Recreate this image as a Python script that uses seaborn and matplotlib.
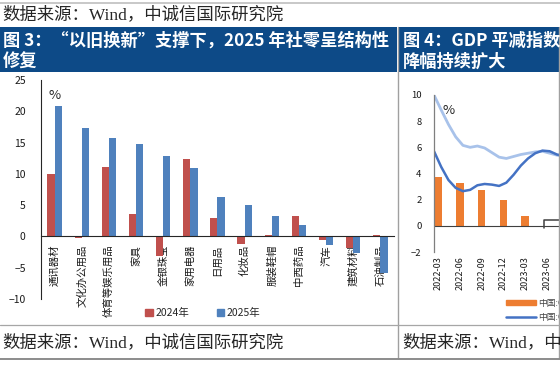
import numpy as np
import pandas as pd
import matplotlib
matplotlib.use("Agg")
import matplotlib.pyplot as plt
import seaborn as sns
from matplotlib.lines import Line2D
from matplotlib.patches import Rectangle, Patch
from matplotlib.transforms import Bbox, TransformedBbox

# ---------------- data ----------------
categories = ['通讯器材', '文化办公用品', '体育等娱乐用品', '家具', '金银珠宝', '家用电器',
              '日用品', '化妆品', '服装鞋帽', '中西药品', '汽车', '建筑材料', '石油制品']
growth_2024 = [9.9, -0.3, 11.1, 3.6, -3.1, 12.3, 2.9, -1.2, 0.2, 3.2, -0.5, -1.9, 0.2]
growth_2025 = [20.9, 17.3, 15.7, 14.7, 12.8, 11.0, 6.3, 5.0, 3.2, 1.8, -1.4, -2.7, -5.8]
years = ['2024年', '2025年']
left_yticks = [-10, -5, 0, 5, 10, 15, 20, 25]

quarters = ['2022-03', '2022-06', '2022-09', '2022-12', '2023-03', '2023-06', '2023-09']
deflator_bars = [3.7, 3.3, 2.75, 1.95, 0.75, -0.1]
line_light = [10.0, 8.85, 7.75, 6.8, 6.15, 6.0, 6.1, 5.95, 5.6, 5.25, 5.15, 5.3,
              5.45, 5.55, 5.65, 5.7, 5.55, 5.4, 5.3]
line_dark = [5.7, 4.5, 3.5, 2.9, 2.65, 2.75, 3.1, 3.2, 3.15, 3.05, 3.3, 3.9,
             4.6, 5.15, 5.55, 5.75, 5.7, 5.45, 5.35]
step_x = [4.85, 4.85, 6.5]
step_y = [-0.15, 0.45, 0.45]
right_yticks = [-2, 0, 2, 4, 6, 8, 10]
legend_right = ['中国:GDP平减指数:当季同比', '中国:GDP:现价:当季同比']

title_left = ['图 3：“以旧换新”支撑下，2025 年社零呈结构性', '修复']
title_right = ['图 4：GDP 平减指数', '降幅持续扩大']
source_text = '数据来源：Wind，中诚信国际研究院'

# ---------------- style ----------------
sns.set_style('white')
plt.rcParams['font.family'] = ['Noto Sans CJK SC', 'DejaVu Sans']
plt.rcParams['axes.unicode_minus'] = True
SERIF = ['Liberation Serif', 'Noto Sans CJK SC']
TITLE_FONT = ['Noto Sans CJK SC', 'DejaVu Sans']
RED, BLUE = '#C0504D', '#4F81BD'
ORANGE, DBLUE, LBLUE = '#ED7D31', '#4472C4', '#A8C2EA'
NAVY = '#0D4A87'

W, H = 560, 368
fig = plt.figure(figsize=(W / 100, H / 100), dpi=100)
fx = lambda x: x / W
fy = lambda y: 1 - y / H

# ---------------- page decoration ----------------
def hline(y, x0, x1, color, lw):
    fig.add_artist(Line2D([fx(x0), fx(x1)], [fy(y), fy(y)], transform=fig.transFigure,
                          color=color, lw=lw, zorder=20))

def vline(x, y0, y1, color, lw):
    fig.add_artist(Line2D([fx(x), fx(x)], [fy(y0), fy(y1)], transform=fig.transFigure,
                          color=color, lw=lw, zorder=20))

hline(2.5, 0, 560, '#BFBFBF', 1.2)
fig.add_artist(Rectangle((fx(0), fy(72)), fx(397), fy(27) - fy(72), transform=fig.transFigure,
                         facecolor=NAVY, edgecolor='none', zorder=10))
fig.add_artist(Rectangle((fx(399), fy(72)), fx(161), fy(27) - fy(72), transform=fig.transFigure,
                         facecolor=NAVY, edgecolor='none', zorder=10))
vline(398, 27, 358, '#A0A0A0', 1.0)
vline(559.3, 27, 358, '#A0A0A0', 1.0)
hline(325, 0, 560, '#A6A6A6', 0.9)
hline(358.5, 0, 560, '#8C8C8C', 1.4)

fig.text(fx(2), fy(15), source_text, ha='left', va='center', fontsize=12.5,
         family=SERIF, color='#262626', zorder=21)
fig.text(fx(3), fy(41), title_left[0], ha='left', va='center', fontsize=12.4,
         family=TITLE_FONT, color='white', fontweight='bold', zorder=21)
fig.text(fx(3), fy(62), title_left[1], ha='left', va='center', fontsize=12.4,
         family=TITLE_FONT, color='white', fontweight='bold', zorder=21)
fig.text(fx(403), fy(41), title_right[0], ha='left', va='center', fontsize=12.4,
         family=TITLE_FONT, color='white', fontweight='bold', zorder=21)
fig.text(fx(403), fy(62), title_right[1], ha='left', va='center', fontsize=12.4,
         family=TITLE_FONT, color='white', fontweight='bold', zorder=21)
fig.text(fx(2), fy(343), source_text, ha='left', va='center', fontsize=12.5,
         family=SERIF, color='#262626', zorder=21)
fig.text(fx(402), fy(343), source_text, ha='left', va='center', fontsize=12.5,
         family=SERIF, color='#262626', zorder=21)

# ---------------- left chart ----------------
axl = fig.add_axes([fx(41), fy(299), fx(353), (299 - 80) / H])
df = pd.DataFrame({
    'cat': categories * 2,
    'val': growth_2024 + growth_2025,
    'year': [years[0]] * len(categories) + [years[1]] * len(categories),
})
sns.barplot(data=df, x='cat', y='val', hue='year', order=categories, hue_order=years,
            palette=[RED, BLUE], width=0.53, gap=0, saturation=1, linewidth=0,
            legend=False, ax=axl)
axl.set_xlim(-0.5, len(categories) - 0.5)
axl.set_ylim(-10, 25)
axl.set_yticks(left_yticks)
axl.set_xlabel('')
axl.set_ylabel('')
for s in ['top', 'right']:
    axl.spines[s].set_visible(False)
axl.spines['bottom'].set_position(('data', 0))
axl.spines['bottom'].set_color('#262626')
axl.spines['left'].set_color('#262626')
axl.spines['bottom'].set_linewidth(0.8)
axl.spines['left'].set_linewidth(0.8)
axl.set_xticks(range(len(categories)))
axl.set_xticklabels(categories, rotation=90, fontsize=7.5, color='#1a1a1a')
axl.set_xticks(np.arange(-0.5, len(categories), 1), minor=True)
axl.tick_params(axis='x', which='major', length=0, pad=6)
axl.tick_params(axis='x', which='minor', length=3, width=0.8, direction='out', color='#262626')
axl.tick_params(axis='y', length=2.5, width=0.8, direction='out', pad=8.5,
                labelsize=7.5, color='#262626', labelcolor='#1a1a1a')
clip = TransformedBbox(Bbox.from_extents(0, fy(322), 1, fy(75)), fig.transFigure)
for lab in axl.get_xticklabels():
    lab.set_clip_box(clip)
    lab.set_clip_on(True)
axl.text(0.02, 0.93, '%', transform=axl.transAxes, fontsize=9.5, ha='left', va='center')
fig.legend(handles=[Patch(color=RED), Patch(color=BLUE)], labels=years,
           loc='center', bbox_to_anchor=(fx(203), fy(313)), ncol=2, frameon=False,
           fontsize=7.5, handlelength=0.7, handleheight=0.7, handletextpad=0.3,
           columnspacing=2.6)

# ---------------- right chart (cut by page) ----------------
px_per_q = 21.7
axr = fig.add_axes([fx(434), fy(252), 6.7 * px_per_q / W, (252 - 95) / H])
sns.barplot(x=quarters[:len(deflator_bars)], y=deflator_bars, color=ORANGE, width=0.34,
            saturation=1, linewidth=0, ax=axr)
line_x = -0.2 + np.arange(len(line_light)) / 3
sns.lineplot(x=line_x, y=line_light, color=LBLUE, lw=2, ax=axr)
sns.lineplot(x=line_x, y=line_dark, color=DBLUE, lw=1.8, ax=axr)
sns.lineplot(x=step_x, y=step_y, color='#404040', lw=1.1, sort=False, estimator=None, ax=axr)
axr.axhline(0, color='#404040', lw=0.8, zorder=1)
axr.set_xlim(-0.2, 6.5)
axr.set_ylim(-2, 10)
axr.set_yticks(right_yticks)
axr.set_yticklabels([f'{v}'.replace('-', '\u2212') for v in right_yticks])
axr.set_xticks(range(len(quarters)))
axr.set_xticklabels(quarters, rotation=90, fontsize=6.5, color='#1a1a1a')
axr.set_xlabel('')
axr.set_ylabel('')
for s in ['top', 'right', 'bottom']:
    axr.spines[s].set_visible(False)
axr.spines['left'].set_color('#7F7F7F')
axr.spines['left'].set_linewidth(0.9)
axr.tick_params(axis='x', length=0, pad=3)
axr.tick_params(axis='y', length=3, width=0.8, direction='in', pad=9,
                labelsize=6.8, color='#404040', labelcolor='#1a1a1a')
axr.text(0.06, 0.9, '%', transform=axr.transAxes, fontsize=9.5, ha='left', va='center')
fig.legend(handles=[Patch(color=ORANGE), Line2D([], [], color=DBLUE, lw=1.8)],
           labels=legend_right, loc='upper left', bbox_to_anchor=(fx(498), fy(291)),
           frameon=False, fontsize=6.3, handlelength=3.4, handleheight=0.55,
           handletextpad=0.3, labelspacing=0.55, labelcolor='#404040')

fig.savefig('out.png', dpi=100)
